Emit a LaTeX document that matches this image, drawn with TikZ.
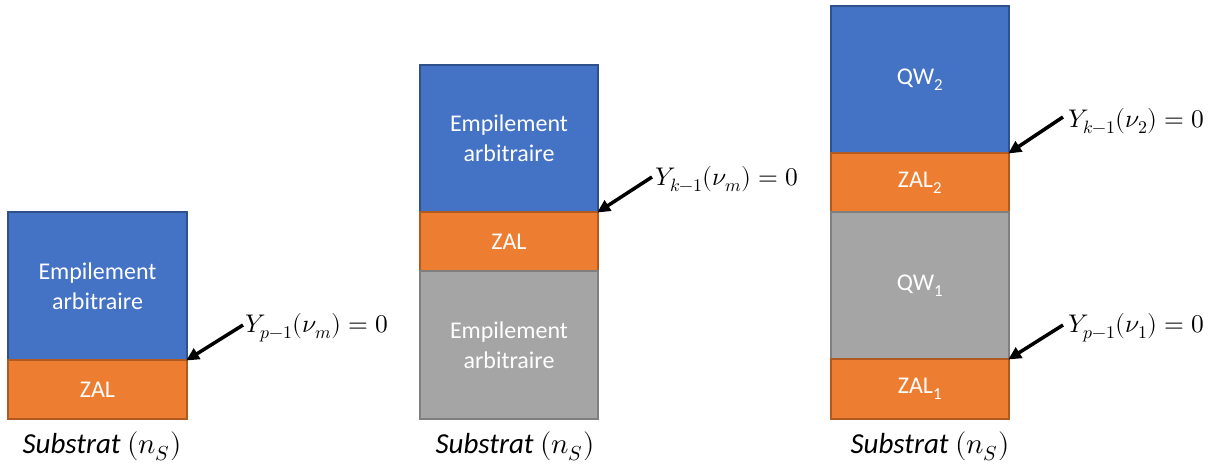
\documentclass[tikz,border=0pt]{standalone}
\usepackage{fontspec}
\usepackage{unicode-math}
\setmainfont{Carlito}
\setmathfont{Latin Modern Math}
\usetikzlibrary{arrows.meta}
\definecolor{cblue}{HTML}{4472C4}
\definecolor{cblueb}{HTML}{2F528F}
\definecolor{corange}{HTML}{ED7D31}
\definecolor{corangeb}{HTML}{AE5A21}
\definecolor{cgray}{HTML}{A5A5A5}
\definecolor{cgrayb}{HTML}{7F7F7F}
\tikzset{
  layer/.style={rectangle, inner sep=0pt, outer sep=0pt, line width=1.4pt,
    anchor=north west, text=white, align=center,
    font=\fontsize{24}{30}\selectfont},
  bluebox/.style={layer, fill=cblue, draw=cblueb},
  orangebox/.style={layer, fill=corange, draw=corangeb},
  graybox/.style={layer, fill=cgray, draw=cgrayb},
  mathlbl/.style={anchor=base west, inner sep=0pt, font=\fontsize{25.5}{30}\selectfont},
  sublbl/.style={anchor=base, inner sep=0pt, font=\fontsize{29}{34}\selectfont},
  arr/.style={line width=3.5pt, -{Triangle[length=13pt,width=12pt]}, shorten >=-1pt},
}
\newcommand{\substr}{\textit{Substrat} $(n_S)$}
\begin{document}
\begin{tikzpicture}[x=1pt,y=-1pt]
\useasboundingbox (0,0) rectangle (1222,472);
% stack 1
\node[bluebox, minimum width=179, minimum height=148] (a1) at (8,212) {Empilement\\arbitraire};
\node[orangebox, minimum width=179, minimum height=59] (a2) at (8,360) {ZAL};
\node[sublbl] (as) at (102,453) {\substr};
\node[mathlbl] (al) at (245,332) {$Y_{p-1}(\nu_m)=0$};
\coordinate (at) at (243,325);
\draw[arr] (at) -- (a2.north east);
% stack 2
\node[bluebox, minimum width=178, minimum height=147] (b1) at (420,65) {Empilement\\arbitraire};
\node[orangebox, minimum width=178, minimum height=59] (b2) at (420,212) {ZAL};
\node[graybox, minimum width=178, minimum height=148] (b3) at (420,271) {Empilement\\arbitraire};
\node[sublbl] (bs) at (515,453) {\substr};
\node[mathlbl] (bl) at (655,185) {$Y_{k-1}(\nu_m)=0$};
\coordinate (bt) at (652,177);
\draw[arr] (bt) -- (b2.north east);
% stack 3
\node[bluebox, minimum width=178, minimum height=147] (c1) at (831,6) {QW\textsubscript{2}};
\node[orangebox, minimum width=178, minimum height=59] (c2) at (831,153) {ZAL\textsubscript{2}};
\node[graybox, minimum width=178, minimum height=147] (c3) at (831,212) {QW\textsubscript{1}};
\node[orangebox, minimum width=178, minimum height=60] (c4) at (831,359) {ZAL\textsubscript{1}};
\node[sublbl] (cs) at (930,453) {\substr};
\node[mathlbl] (cl1) at (1068,127) {$Y_{k-1}(\nu_2)=0$};
\node[mathlbl] (cl2) at (1068,332) {$Y_{p-1}(\nu_1)=0$};
\coordinate (ct1) at (1063,117);
\coordinate (ct2) at (1063,325);
\draw[arr] (ct1) -- (c2.north east);
\draw[arr] (ct2) -- (c4.north east);
\end{tikzpicture}
\end{document}
